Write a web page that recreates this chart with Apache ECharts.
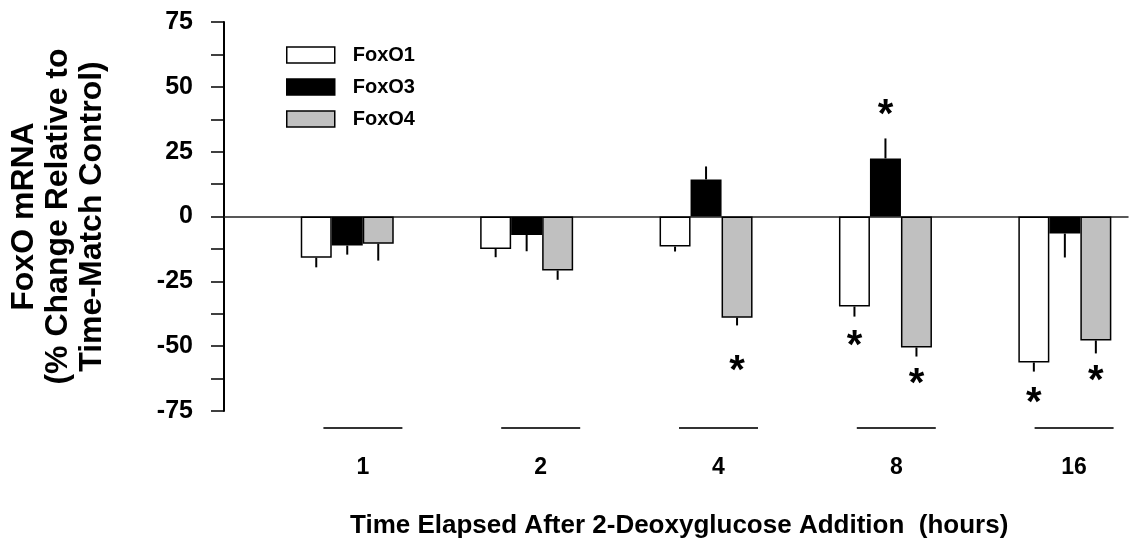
<!DOCTYPE html>
<html>
<head>
<meta charset="utf-8">
<script src="https://cdn.jsdelivr.net/npm/echarts@6/dist/echarts.min.js"></script>
<style>
html, body { margin: 0; padding: 0; background: #fff; }
#main { width: 1130px; height: 544px; }
</style>
</head>
<body>
<div id="main"></div>
<script>
// time points (hours)
var hours = ['1', '2', '4', '8', '16'];
// % change relative to time-match control
var foxo1 = [-15.9, -12.5, -11.6, -34.7, -56.3];
var foxo3 = [-11.2, -7.1, 14.3, 22.4, -6.6];
var foxo4 = [-10.5, -20.8, -39.0, -50.5, -47.8];
// error bars (one side)
var foxo1Err = [3.7, 3.2, 1.9, 3.9, 3.5];
var foxo3Err = [3.5, 6.3, 5.0, 7.7, 9.2];
var foxo4Err = [6.5, 3.6, 3.0, 3.5, 5.0];
// asterisks (significant), value where the * sits
var foxo1Star = [null, null, null, -46.7, -69.0];
var foxo3Star = [null, null, null, 42.4, null];
var foxo4Star = [null, null, -56.3, -61.3, -60.2];
var yTicks = [-75, -50, -25, 0, 25, 50, 75];

var FONT = '"Liberation Sans", Arial, Helvetica, sans-serif';
var BAR_W = 31;
var STAR_SHIFT = 9;

function 画图() {
    var chartDom = document.getElementById('main');
    var myChart = echarts.init(chartDom);

    function barSeries(name, values, color) {
        return {
            name: name,
            type: 'bar',
            xAxisIndex: 0,
            yAxisIndex: 0,
            barWidth: BAR_W,
            barGap: '0%',
            itemStyle: { color: color, borderColor: '#000', borderWidth: 1.5 },
            data: values.map(function (v, i) { return [i + 1, v]; })
        };
    }

    // error line + asterisk, placed on the bar of series idx
    function errSeries(name, idx, values, errs, stars) {
        return {
            name: name,
            type: 'custom',
            xAxisIndex: 0,
            yAxisIndex: 0,
            z: 5,
            silent: true,
            data: values.map(function (v, i) { return [i + 1, v, errs[i], stars[i]]; }),
            renderItem: function (params, api) {
                var x = api.value(0), v = api.value(1), e = api.value(2), s = api.value(3);
                var dx = (idx - 1) * BAR_W;
                var p0 = api.coord([x, v]);
                var p1 = api.coord([x, v < 0 ? v - e : v + e]);
                var children = [{
                    type: 'line',
                    shape: { x1: p0[0] + dx, y1: p0[1], x2: p1[0] + dx, y2: p1[1] },
                    style: { stroke: '#000', lineWidth: 2 }
                }];
                if (s != null && !isNaN(s)) {
                    var ps = api.coord([x, s]);
                    children.push({
                        type: 'text',
                        x: ps[0] + dx,
                        y: ps[1] + STAR_SHIFT,
                        style: { text: '*', fill: '#000', font: 'bold 40px ' + FONT, align: 'center', verticalAlign: 'middle' }
                    });
                }
                return { type: 'group', children: children };
            }
        };
    }

    var option = {
        animation: false,
        backgroundColor: '#fff',
        textStyle: { fontFamily: FONT },
        title: {
            text: 'Time Elapsed After 2-Deoxyglucose Addition  (hours)',
            left: 345,
            top: 508,
            textStyle: { fontSize: 26, fontWeight: 'bold', color: '#000', fontFamily: FONT }
        },
        legend: {
            orient: 'vertical',
            left: 281,
            top: 40,
            itemWidth: 48,
            itemHeight: 16,
            itemGap: 12,
            icon: 'rect',
            itemStyle: { borderColor: '#000', borderWidth: 1.5 },
            textStyle: { fontSize: 20, fontWeight: 'bold', color: '#000', lineHeight: 16, padding: [0, 0, 0, 13], fontFamily: FONT },
            data: ['FoxO1', 'FoxO3', 'FoxO4']
        },
        grid: [
            { left: 224, right: 2, top: 22, bottom: 133, outerBoundsMode: 'none', containLabel: false },
            { left: 274, width: 889, top: 418, height: 20, outerBoundsMode: 'none', containLabel: false }
        ],
        xAxis: [
            {
                type: 'value',
                gridIndex: 0,
                min: 0.313,
                max: 5.352,
                axisLine: { show: true, onZero: true, lineStyle: { color: '#222', width: 1.5 } },
                axisTick: { show: false },
                axisLabel: { show: false },
                splitLine: { show: false }
            },
            {
                type: 'category',
                gridIndex: 1,
                data: hours,
                axisLine: { show: false },
                axisTick: { show: false },
                axisLabel: { margin: 18, fontSize: 23, fontWeight: 'bold', color: '#000', fontFamily: FONT },
                splitLine: { show: false }
            }
        ],
        yAxis: [
            {
                type: 'value',
                gridIndex: 0,
                min: yTicks[0],
                max: yTicks[yTicks.length - 1],
                interval: yTicks[1] - yTicks[0],
                name: 'FoxO mRNA\n(% Change Relative to\nTime-Match Control)',
                nameLocation: 'middle',
                nameRotate: 90,
                nameGap: 115,
                nameTextStyle: { fontSize: 32, fontWeight: 'bold', lineHeight: 34, color: '#000', fontFamily: FONT },
                axisLine: { show: true, onZero: false, lineStyle: { color: '#000', width: 2 } },
                axisTick: { show: true, length: 13, lineStyle: { color: '#000', width: 1.5 } },
                minorTick: { show: true, splitNumber: 2, length: 13, lineStyle: { color: '#000', width: 1.5 } },
                axisLabel: { margin: 31, fontSize: 25, fontWeight: 'bold', color: '#000', fontFamily: FONT },
                splitLine: { show: false },
                minorSplitLine: { show: false }
            },
            { type: 'value', gridIndex: 1, min: 0, max: 2, show: false }
        ],
        series: [
            barSeries('FoxO1', foxo1, '#ffffff'),
            barSeries('FoxO3', foxo3, '#000000'),
            barSeries('FoxO4', foxo4, '#c0c0c0'),
            errSeries('FoxO1 err', 0, foxo1, foxo1Err, foxo1Star),
            errSeries('FoxO3 err', 1, foxo3, foxo3Err, foxo3Star),
            errSeries('FoxO4 err', 2, foxo4, foxo4Err, foxo4Star),
            {
                // lines over the time labels
                name: 'underline',
                type: 'scatter',
                xAxisIndex: 1,
                yAxisIndex: 1,
                symbol: 'rect',
                symbolSize: [79, 2],
                silent: true,
                itemStyle: { color: '#000' },
                data: hours.map(function (h) { return [h, 1]; })
            }
        ]
    };

    option && myChart.setOption(option);
}

画图();
</script>
</body>
</html>
